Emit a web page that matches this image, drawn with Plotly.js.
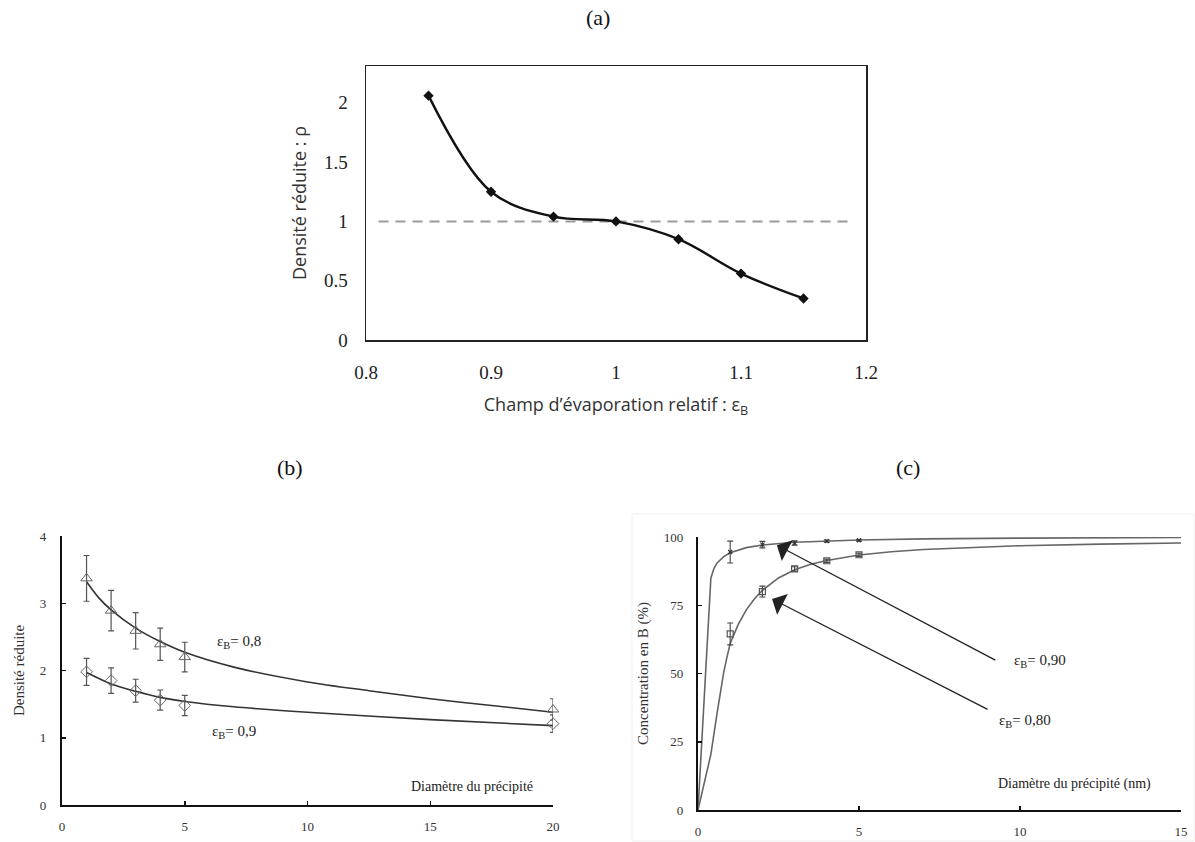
<!DOCTYPE html>
<html>
<head>
<meta charset="utf-8">
<script src="https://cdn.plot.ly/plotly-3.0.1.min.js"></script>
<style>html,body{margin:0;padding:0;background:#fff;}#chart{width:1195px;height:842px;}</style>
</head>
<body>
<div id="chart"></div>
<script>
// ---- Panel (a) ----
const a_x = [0.85, 0.9, 0.95, 1.0, 1.05, 1.1, 1.15];
const a_y = [2.06, 1.25, 1.04, 1.0, 0.85, 0.56, 0.35];
const a_ref_x = [0.81, 1.19];
const a_ref_y = [1, 1];

// ---- Panel (b) ----
const b_x = [1, 2, 3, 4, 5, 20];
const b08_y = [3.37, 2.89, 2.59, 2.39, 2.20, 1.42];
const b08_err = [0.34, 0.30, 0.27, 0.24, 0.22, 0.16];
const b09_y = [1.98, 1.85, 1.70, 1.56, 1.48, 1.21];
const b09_err = [0.20, 0.19, 0.17, 0.15, 0.15, 0.13];
const b08_fit_x = [1, 1.5, 2, 3, 4, 5, 7, 10, 12.5, 15, 17.5, 20];
const b08_fit_y = [3.32, 3.08, 2.90, 2.63, 2.43, 2.27, 2.05, 1.83, 1.70, 1.58, 1.48, 1.38];
const b09_fit_x = [1, 2, 3, 4, 5, 7, 10, 15, 20];
const b09_fit_y = [1.97, 1.80, 1.69, 1.60, 1.54, 1.46, 1.38, 1.27, 1.18];

// ---- Panel (c) ----
const c_x = [1, 2, 3, 4, 5];
const c90_y = [94.5, 97.2, 97.8, 98.5, 98.8];
const c90_err = [4, 1.2, 0.8, 0.4, 0.3];
const c80_y = [64.5, 80, 88.3, 91.3, 93.5];
const c80_err = [4, 2, 0.8, 0.6, 0.6];
const c90_fit_x = [0, 0.4, 0.5, 0.6, 0.8, 1, 1.5, 2, 3, 4, 5, 7, 10, 15];
const c90_fit_y = [0, 85, 88.6, 90.6, 92.8, 94.2, 96.1, 97.1, 98.1, 98.6, 98.9, 99.3, 99.6, 99.8];
const c80_fit_x = [0, 0.2, 0.4, 0.6, 0.8, 0.9, 1, 1.25, 1.5, 1.75, 2, 2.5, 3, 3.5, 4, 5, 6, 7, 8.5, 10, 12.5, 15];
const c80_fit_y = [0, 10, 20.4, 36, 50.5, 56, 61, 68, 73.3, 77.3, 80.5, 85, 88, 90, 91.4, 93.4, 94.6, 95.4, 96.2, 96.8, 97.4, 97.8];

// labels
const panelLabels = ['(a)', '(b)', '(c)'];
const a_xtitle = 'Champ d’évaporation relatif : ε<sub>B</sub>';
const a_ytitle = 'Densité réduite : ρ';
const b_ytitle = 'Densité réduite';
const b_xlabel = 'Diamètre du précipité';
const c_ytitle = 'Concentration en B (%)';
const c_xlabel = 'Diamètre du précipité (nm)';
const b_series = ['ε<sub>B</sub>= 0,8', 'ε<sub>B</sub>= 0,9'];
const c_series = ['ε<sub>B</sub>= 0,90', 'ε<sub>B</sub>= 0,80'];

const SERIF = 'Liberation Serif, Times New Roman, serif';
const SANS = 'Open Sans, Noto Sans, DejaVu Sans, sans-serif';

const traces = [
  // (a)
  {x: a_ref_x, y: a_ref_y, xaxis: 'x', yaxis: 'y', mode: 'lines',
   line: {color: '#9a9a9a', width: 2, dash: '10px,7px'}, hoverinfo: 'skip'},
  {x: a_x, y: a_y, xaxis: 'x', yaxis: 'y', mode: 'lines+markers',
   line: {color: '#111', width: 2.4, shape: 'spline', smoothing: 1},
   marker: {symbol: 'diamond', size: 8, color: '#111'}},
  // (b)
  {x: b08_fit_x, y: b08_fit_y, xaxis: 'x2', yaxis: 'y2', mode: 'lines',
   line: {color: '#333', width: 1.6, shape: 'spline', smoothing: 0.8}, cliponaxis: false},
  {x: b09_fit_x, y: b09_fit_y, xaxis: 'x2', yaxis: 'y2', mode: 'lines',
   line: {color: '#333', width: 1.6, shape: 'spline', smoothing: 0.8}, cliponaxis: false},
  {x: b_x, y: b08_y, xaxis: 'x2', yaxis: 'y2', mode: 'markers', cliponaxis: false,
   marker: {symbol: 'triangle-up-open', size: 10, color: '#666', line: {width: 1}},
   error_y: {type: 'data', array: b08_err, color: '#555', thickness: 1.2, width: 3}},
  {x: b_x, y: b09_y, xaxis: 'x2', yaxis: 'y2', mode: 'markers', cliponaxis: false,
   marker: {symbol: 'diamond-open', size: 9, color: '#666', line: {width: 1}},
   error_y: {type: 'data', array: b09_err, color: '#555', thickness: 1.2, width: 3}},
  // (c)
  {x: c90_fit_x, y: c90_fit_y, xaxis: 'x3', yaxis: 'y3', mode: 'lines',
   line: {color: '#666', width: 1.6}, cliponaxis: false},
  {x: c80_fit_x, y: c80_fit_y, xaxis: 'x3', yaxis: 'y3', mode: 'lines',
   line: {color: '#666', width: 1.6}, cliponaxis: false},
  {x: c_x, y: c90_y, xaxis: 'x3', yaxis: 'y3', mode: 'markers', cliponaxis: false,
   marker: {symbol: 'x-thin-open', size: 4, color: '#333', line: {width: 1.2, color: '#333'}},
   error_y: {type: 'data', array: c90_err, color: '#444', thickness: 1.1, width: 3}},
  {x: c_x, y: c80_y, xaxis: 'x3', yaxis: 'y3', mode: 'markers', cliponaxis: false,
   marker: {symbol: 'square-open', size: 6, color: '#555', line: {width: 1.2}},
   error_y: {type: 'data', array: c80_err, color: '#444', thickness: 1.1, width: 3}}
];

const W = 1195, H = 842;
const px = v => v / W;
const py = v => 1 - v / H;

const layout = {
  width: W, height: H,
  margin: {l: 0, r: 0, t: 0, b: 0},
  paper_bgcolor: '#fff', plot_bgcolor: 'rgba(0,0,0,0)',
  showlegend: false,
  xaxis: {
    domain: [px(366), px(866)], anchor: 'y', range: [0.8, 1.2], dtick: 0.1,
    showline: true, mirror: true, linecolor: '#222', linewidth: 1.5,
    ticks: '', showgrid: false, zeroline: false, ticklabelstandoff: 15,
    tickfont: {family: SERIF, size: 19, color: '#222'},
    title: {text: a_xtitle, font: {family: SANS, size: 18, color: '#333'}, standoff: 16}
  },
  yaxis: {
    domain: [py(340), py(66)], anchor: 'x', range: [0, 2.31], dtick: 0.5,
    showline: true, mirror: true, linecolor: '#222', linewidth: 1.5,
    ticks: '', showgrid: false, zeroline: false, ticklabelstandoff: 13,
    tickfont: {family: SERIF, size: 19, color: '#222'},
    title: {text: a_ytitle, font: {family: SANS, size: 18, color: '#333'}, standoff: 12}
  },
  xaxis2: {
    domain: [px(62), px(553)], anchor: 'y2', range: [0, 20], tickvals: [0, 5, 10, 15, 20],
    showline: true, linecolor: '#111', linewidth: 2.2, ticks: 'inside', ticklen: 4,
    tickcolor: '#111', tickwidth: 1.5, showgrid: false, zeroline: false, ticklabelstandoff: 8,
    tickfont: {family: SERIF, size: 13, color: '#333'}
  },
  yaxis2: {
    domain: [py(805), py(536)], anchor: 'x2', range: [0, 4], dtick: 1,
    showline: true, linecolor: '#111', linewidth: 2.2, ticks: 'inside', ticklen: 4,
    tickcolor: '#111', tickwidth: 1.5, showgrid: false, zeroline: false, ticklabelstandoff: 11,
    tickfont: {family: SERIF, size: 13, color: '#333'},
    title: {text: b_ytitle, font: {family: SERIF, size: 15, color: '#333'}, standoff: 12}
  },
  xaxis3: {
    domain: [px(698), px(1181)], anchor: 'y3', range: [0, 15], tickvals: [0, 5, 10, 15],
    showline: true, linecolor: '#111', linewidth: 2.2, ticks: 'inside', ticklen: 4,
    tickcolor: '#111', tickwidth: 1.5, showgrid: false, zeroline: false, ticklabelstandoff: 8,
    tickfont: {family: SERIF, size: 13, color: '#333'}
  },
  yaxis3: {
    domain: [py(810), py(537)], anchor: 'x3', range: [0, 100], dtick: 25,
    showline: true, linecolor: '#111', linewidth: 2.2, ticks: 'inside', ticklen: 4,
    tickcolor: '#111', tickwidth: 1.5, showgrid: false, zeroline: false, ticklabelstandoff: 10,
    tickfont: {family: SERIF, size: 13, color: '#333'},
    title: {text: c_ytitle, font: {family: SERIF, size: 15, color: '#333'}, standoff: 12}
  },
  shapes: [
    {type: 'rect', xref: 'paper', yref: 'paper', x0: px(632), x1: px(1194), y0: py(841), y1: py(514),
     line: {color: '#f0f0f0', width: 1}, fillcolor: 'rgba(0,0,0,0)', layer: 'below'}
  ],
  annotations: [
    {text: panelLabels[0], xref: 'paper', yref: 'paper', x: px(598), y: py(18), xanchor: 'center', yanchor: 'middle',
     showarrow: false, font: {family: SERIF, size: 22, color: '#111'}},
    {text: panelLabels[1], xref: 'paper', yref: 'paper', x: px(290), y: py(468), xanchor: 'center', yanchor: 'middle',
     showarrow: false, font: {family: SERIF, size: 22, color: '#111'}},
    {text: panelLabels[2], xref: 'paper', yref: 'paper', x: px(908), y: py(468), xanchor: 'center', yanchor: 'middle',
     showarrow: false, font: {family: SERIF, size: 22, color: '#111'}},
    {text: b_series[0], xref: 'x2', yref: 'y2', x: 7.2, y: 2.42, showarrow: false,
     font: {family: SERIF, size: 15, color: '#222'}},
    {text: b_series[1], xref: 'x2', yref: 'y2', x: 7.0, y: 1.09, showarrow: false,
     font: {family: SERIF, size: 15, color: '#222'}},
    {text: b_xlabel, xref: 'x2', yref: 'y2', x: 16.7, y: 0.28, showarrow: false,
     font: {family: SERIF, size: 14, color: '#222'}},
    {text: c_series[0], xref: 'x3', yref: 'y3', x: 9.75, y: 54.6, xanchor: 'left', showarrow: false,
     font: {family: SERIF, size: 15, color: '#222'}},
    {text: c_series[1], xref: 'x3', yref: 'y3', x: 9.28, y: 32.6, xanchor: 'left', showarrow: false,
     font: {family: SERIF, size: 15, color: '#222'}},
    {text: c_xlabel, xref: 'x3', yref: 'y3', x: 11.7, y: 9.5, showarrow: false,
     font: {family: SERIF, size: 14, color: '#222'}},
    {text: '', xref: 'x3', yref: 'y3', x: 2.45, y: 97, axref: 'x3', ayref: 'y3', ax: 9.28, ay: 54.6,
     showarrow: true, arrowhead: 1, arrowsize: 3, arrowwidth: 1.3, arrowcolor: '#222', standoff: 0},
    {text: '', xref: 'x3', yref: 'y3', x: 2.3, y: 77.3, axref: 'x3', ayref: 'y3', ax: 9.04, ay: 36.6,
     showarrow: true, arrowhead: 1, arrowsize: 3, arrowwidth: 1.3, arrowcolor: '#222', standoff: 0}
  ]
};

Plotly.newPlot('chart', traces, layout, {staticPlot: true, displayModeBar: false});
</script>
</body>
</html>
